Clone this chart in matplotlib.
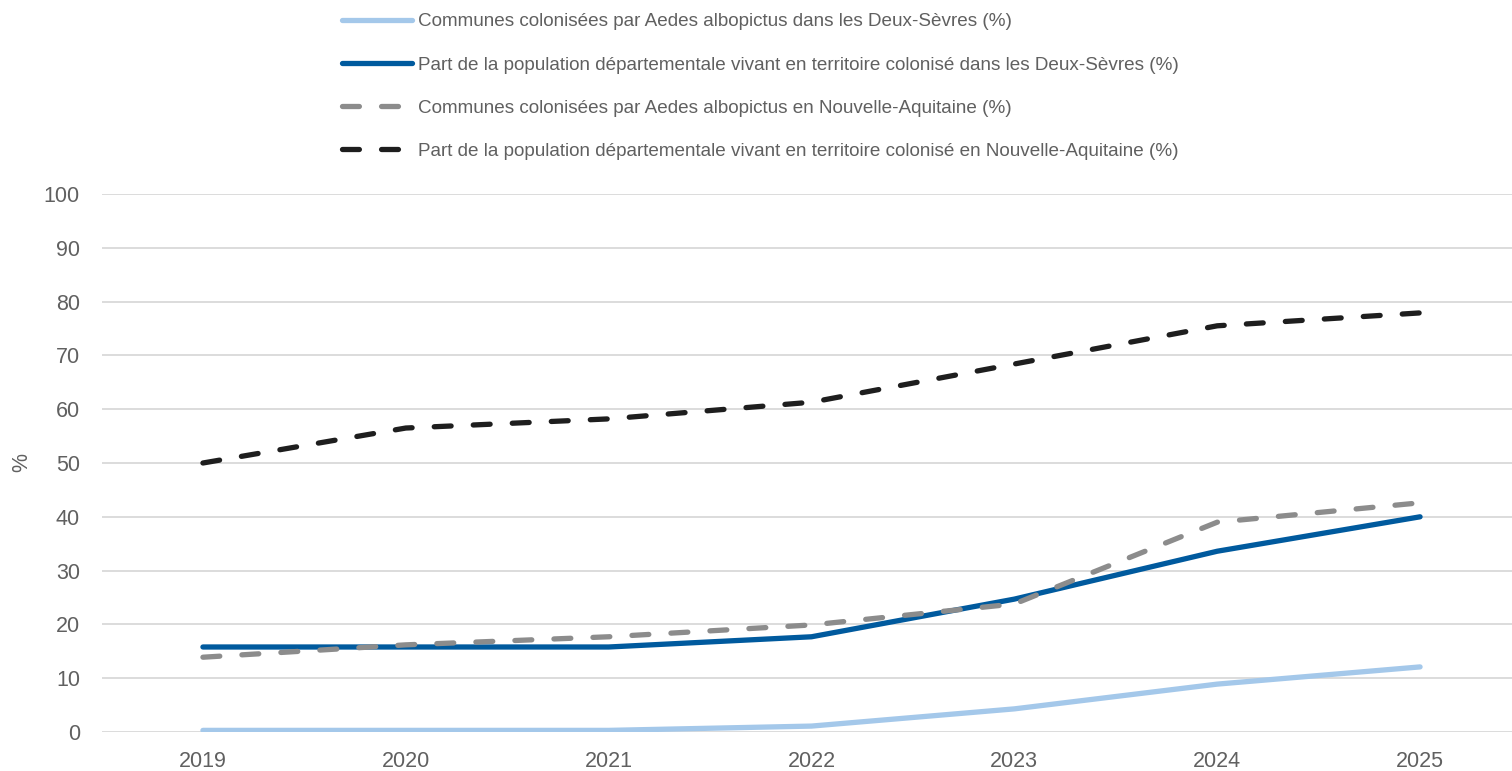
import matplotlib
matplotlib.use("Agg")
import matplotlib.pyplot as plt

years = [2019, 2020, 2021, 2022, 2023, 2024, 2025]
communes_ds = [0.3, 0.3, 0.3, 1.1, 4.3, 8.9, 12.1]
pop_ds = [15.8, 15.8, 15.8, 17.7, 24.7, 33.6, 40.0]
communes_na = [13.9, 16.2, 17.7, 19.9, 23.8, 39.0, 42.6]
pop_na = [50.0, 56.5, 58.2, 61.3, 68.4, 75.5, 77.9]

labels = [
    "Communes colonisées par Aedes albopictus dans les Deux-Sèvres (%)",
    "Part de la population départementale vivant en territoire colonisé dans les Deux-Sèvres (%)",
    "Communes colonisées par Aedes albopictus en Nouvelle-Aquitaine (%)",
    "Part de la population départementale vivant en territoire colonisé en Nouvelle-Aquitaine (%)",
]

TICK_GREY = "#606060"
plt.rcParams["font.family"] = ["Liberation Sans", "DejaVu Sans"]

fig = plt.figure(figsize=(15.12, 7.71), dpi=100)
ax = fig.add_axes([101.5 / 1512, 39 / 771, 1420 / 1512, 538 / 771])

lw = 3.8
ax.plot(years, communes_ds, color="#A4C8EA", lw=lw, solid_capstyle="round",
        solid_joinstyle="round", label=labels[0])
ax.plot(years, pop_ds, color="#005A9E", lw=lw, solid_capstyle="round",
        solid_joinstyle="round", label=labels[1])
ax.plot(years, communes_na, color="#8C8C8C", lw=lw, dashes=(3.2, 4.2),
        dash_capstyle="round", label=labels[2])
ax.plot(years, pop_na, color="#1E1E1E", lw=lw, dashes=(3.2, 4.2),
        dash_capstyle="round", label=labels[3])

ax.set_xlim(2018.5, 2025.5)
ax.set_ylim(0, 100)
ax.set_yticks(range(0, 101, 10))
ax.set_xticks(years)
ax.grid(axis="y", color="#D9D9D9", lw=1.3)
ax.set_axisbelow(True)
for s in ax.spines.values():
    s.set_visible(False)
ax.tick_params(length=0, labelsize=15.5, labelcolor=TICK_GREY)
ax.tick_params(axis="y", pad=15.5)
ax.tick_params(axis="x", pad=13.5)
ax.set_ylabel("%", fontsize=15.5, color=TICK_GREY)
ax.yaxis.set_label_coords(-0.049, 0.5)

fig.legend(loc="upper left", bbox_to_anchor=(325 / 1512, 1 + 4 / 771),
           frameon=False, handlelength=3.7, handletextpad=0.3,
           labelspacing=1.38, prop={"size": 13.6},
           labelcolor=TICK_GREY)

fig.savefig("out.png", dpi=100)
